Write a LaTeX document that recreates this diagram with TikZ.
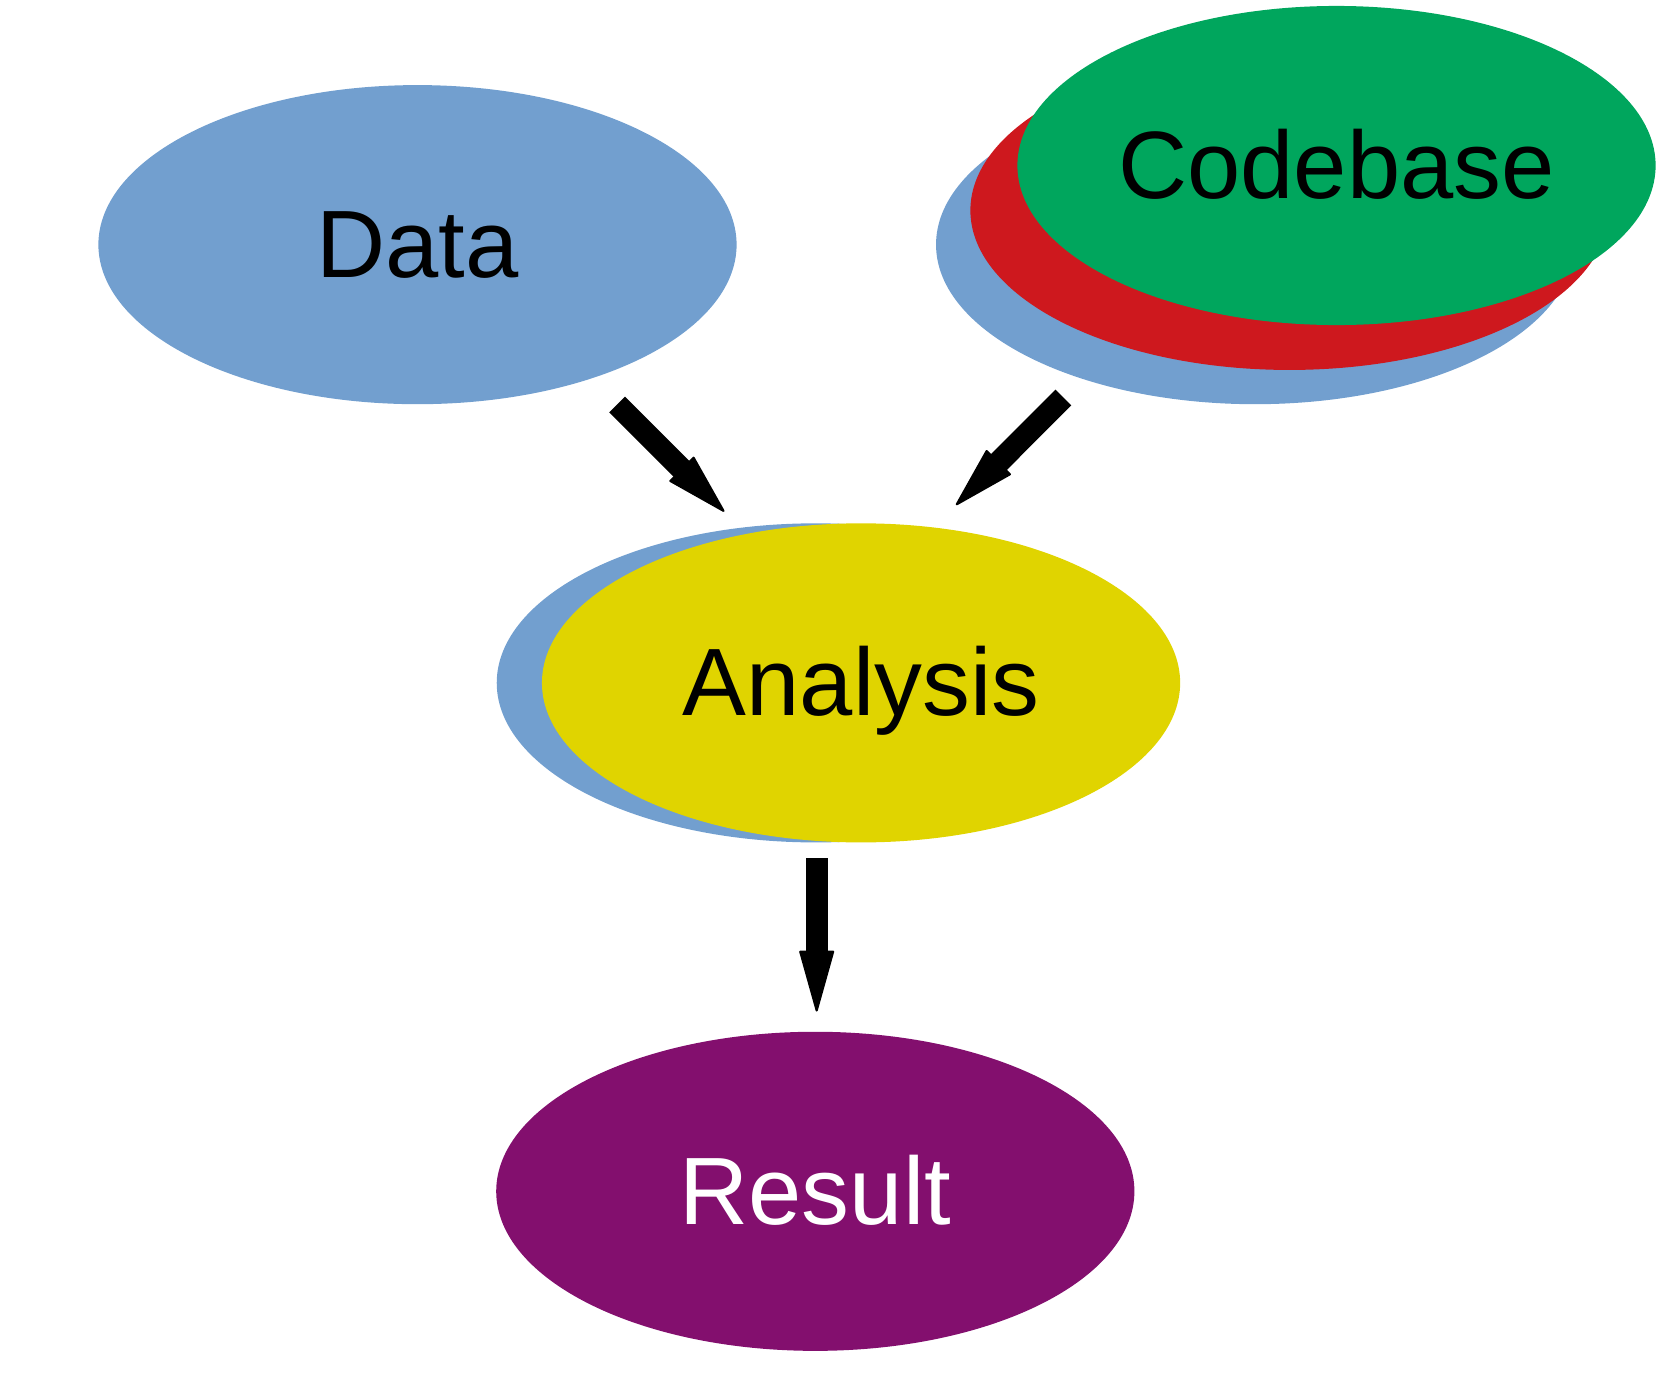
\documentclass[tikz,border=0pt]{standalone}
\usepackage{fontspec}
\setmainfont{Liberation Sans}
\usetikzlibrary{shapes.geometric,arrows.meta}
\definecolor{cblue}{HTML}{729FCF}
\definecolor{cred}{HTML}{CE181E}
\definecolor{cgreen}{HTML}{00A65D}
\definecolor{cyellow}{HTML}{E0D400}
\definecolor{cpurple}{HTML}{830F6E}
\tikzset{
  oval/.style={ellipse, draw=none, inner sep=0pt, minimum width=600pt, minimum height=300pt,
    font=\fontsize{90}{104}\selectfont, text height=62pt, text depth=0pt},
  flow/.style={line width=21pt, -{Triangle[length=60pt,width=33pt,line width'=2pt,round]}}
}
\begin{document}
\begin{tikzpicture}[x=1pt,y=-1pt]
\useasboundingbox (0,0) rectangle (1569.1,1313.3);
% Data
\node[oval, fill=cblue] (data) at (392.5,230) {Data};
% Codebase stack
\node[oval, fill=cblue] (cb1) at (1180,230) {};
\node[oval, fill=cred] (cb2) at (1212.3,197.8) {};
\node[oval, fill=cgreen] (code) at (1256.5,155.6) {Codebase};
% Analysis stack
\node[oval, fill=cblue] (an1) at (767,642) {};
\node[oval, fill=cyellow] (analysis) at (809.5,642) {Analysis};
% Result
\node[oval, fill=cpurple, text=white] (result) at (766.5,1120) {Result};
% arrow end points
\coordinate (a1s) at (580.2,380.3);
\coordinate (a1e) at (680.9,481);
\coordinate (a2s) at (999.7,373.7);
\coordinate (a2e) at (898.8,474.8);
\coordinate (a3s) at (767.8,807);
\coordinate (a3e) at (767.8,951);
\draw[flow] (a1s) -- (a1e);
\draw[flow] (a2s) -- (a2e);
\draw[flow] (a3s) -- (a3e);
\end{tikzpicture}
\end{document}
